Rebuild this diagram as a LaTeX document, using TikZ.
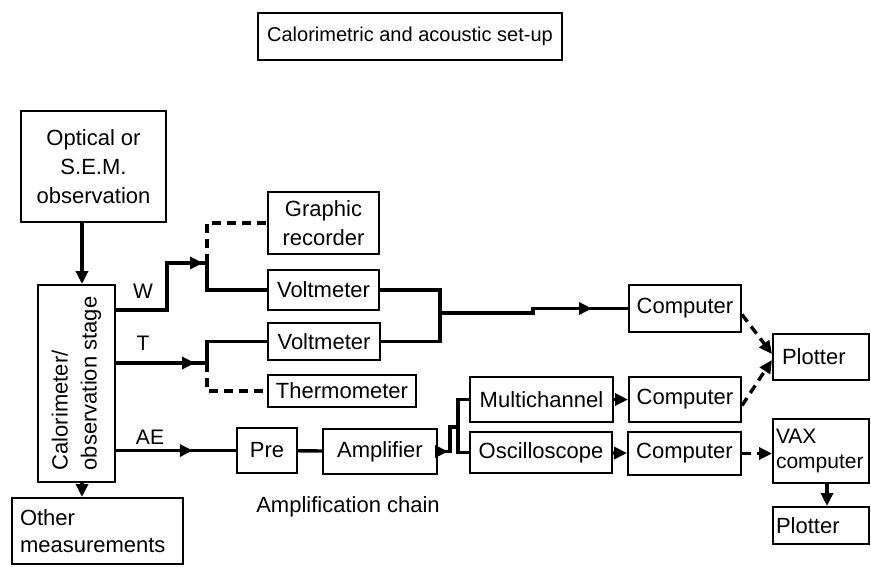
\documentclass[tikz,border=0pt]{standalone}
\usepackage{fontspec}
\setmainfont{Liberation Sans}
\usepackage{tikz}
\usetikzlibrary{arrows.meta,decorations.markings}

\begin{document}
\begin{tikzpicture}[x=1pt,y=-1pt,
  box/.style={draw, line width=2pt, inner sep=0pt, align=center, font=\fontsize{22}{29}\selectfont},
  lbox/.style={box, align=left},
  wire/.style={line width=3.4pt},
  dsh/.style={wire, dash pattern=on 9pt off 6pt},
  arr/.style={-{Triangle[length=13pt,width=12pt]}},
  midtip/.style={postaction={decorate}, decoration={markings,
    mark=at position #1 with {\arrow{Triangle[length=13pt,width=12pt]}}}},
  lbl/.style={font=\fontsize{21}{24}\selectfont}]
\useasboundingbox (0,0) rectangle (871,566);
% Title
\node[box, line width=1.5pt, minimum width=304, minimum height=47, font=\fontsize{20}{24}\selectfont] (title) at (410,36.5) {Calorimetric and acoustic set-up};
% Left column (cal is turned: its east anchor is on top, its south anchor on the right)
\node[box, minimum width=145, minimum height=111] (opt) at (93.5,166.5) {Optical or\\S.E.M.\\observation};
\node[box, align=left, rotate=90, minimum width=197, minimum height=77] (cal) at (76.5,383.5) {Calorimeter/\\observation stage};
\node[lbox, inner xsep=8pt, text width=155, minimum height=66, font=\fontsize{22}{27}\selectfont] (other) at (97.5,531) {Other\\measurements};
\coordinate (calx) at (82,0);
\draw[wire, arr] (opt.south -| calx) -- (cal.east -| calx);
\draw[wire, arr] (cal.west -| calx) -- (other.north -| calx);
% Meters
\node[box, minimum width=111, minimum height=62] (graph) at (323.5,223) {Graphic\\recorder};
\node[box, minimum width=111, minimum height=40] (volt1) at (323.5,290) {Voltmeter};
\node[box, minimum width=112, minimum height=37] (volt2) at (324,341.5) {Voltmeter};
\node[box, minimum width=148, minimum height=32] (therm) at (342,391) {Thermometer};
% Amplification chain
\node[box, minimum width=60, minimum height=45] (pre) at (267,450.5) {Pre};
\node[box, minimum width=114, minimum height=45] (amp) at (380,451.5) {Amplifier};
\node[lbl, font=\fontsize{22}{25}\selectfont] (chain) at (348,507) {Amplification chain};
\node[box, minimum width=143, minimum height=45] (multi) at (541.5,399.5) {Multichannel};
\node[box, minimum width=142, minimum height=41] (osc) at (541,452.5) {Oscilloscope};
% Computers and plotters
\node[box, minimum width=112, minimum height=47] (comp1) at (685,308.5) {Computer};
\node[box, minimum width=112, minimum height=45] (comp2) at (685,399.5) {Computer};
\node[box, minimum width=113, minimum height=43] (comp3) at (684.5,453.5) {Computer};
\node[lbox, inner xsep=9pt, text width=78, minimum height=46] (plot1) at (821,357) {Plotter};
\node[lbox, inner xsep=3pt, text width=90, minimum height=64, font=\fontsize{21}{25}\selectfont] (vax) at (821,451) {VAX\\computer};
\node[lbox, inner xsep=3pt, text width=90, minimum height=37] (plot2) at (821,525.5) {Plotter};
% Signals
\node[lbl] (wlab) at (143,291) {W};
\node[lbl] (tlab) at (143,343) {T};
\node[lbl] (aelab) at (150,437) {AE};
\coordinate (wbend) at (167,263);
\coordinate (wsplit) at (207,263);
\coordinate (tsplit) at (207,363);
\draw[wire, midtip=-4pt] ([yshift=73.5pt]cal.south) -| (wbend) -- (wsplit);
\draw[wire] (wsplit) |- (volt1.west);
\draw[dsh] (wsplit) |- (graph.west);
\draw[wire, midtip=-12pt] (cal.south |- tsplit) -- (tsplit);
\draw[wire] (tsplit) |- (volt2.west);
\draw[dsh] (tsplit) |- (therm.west);
\draw[wire, midtip=0.64] (cal.south |- pre.west) -- (pre.west);
\draw[wire] (pre) -- (amp);
% Voltmeters to computer
\coordinate (vmerge) at (440,313);
\coordinate (vjog) at (533,313);
\draw[wire] (volt1.east) -| (vmerge);
\draw[wire] (volt2.east) -| (vmerge);
\draw[wire, midtip=-36pt] (vmerge) -- (vjog) |- (comp1.west);
% Amplifier split
\coordinate (asplit) at (458,427);
\draw[wire, midtip=10pt] (amp.east) -| ([xshift=-8pt]asplit) -- (asplit);
\draw[wire] (multi.west) -| (asplit) |- (osc.west);
\draw[wire, arr] (multi) -- (comp2);
\draw[wire, arr] (osc) -- (comp3);
% Outputs
\draw[dsh, arr] ([yshift=-6pt]comp1.east) -- ([yshift=3pt]plot1.west);
\draw[dsh, arr] ([yshift=-6pt]comp2.east) -- ([yshift=-3pt]plot1.west);
\draw[dsh, arr] (comp3.east) -- (comp3.east -| vax.west);
\draw[wire, arr] ([xshift=6pt]vax.south) -- ([xshift=6pt]plot2.north);
\end{tikzpicture}
\end{document}
